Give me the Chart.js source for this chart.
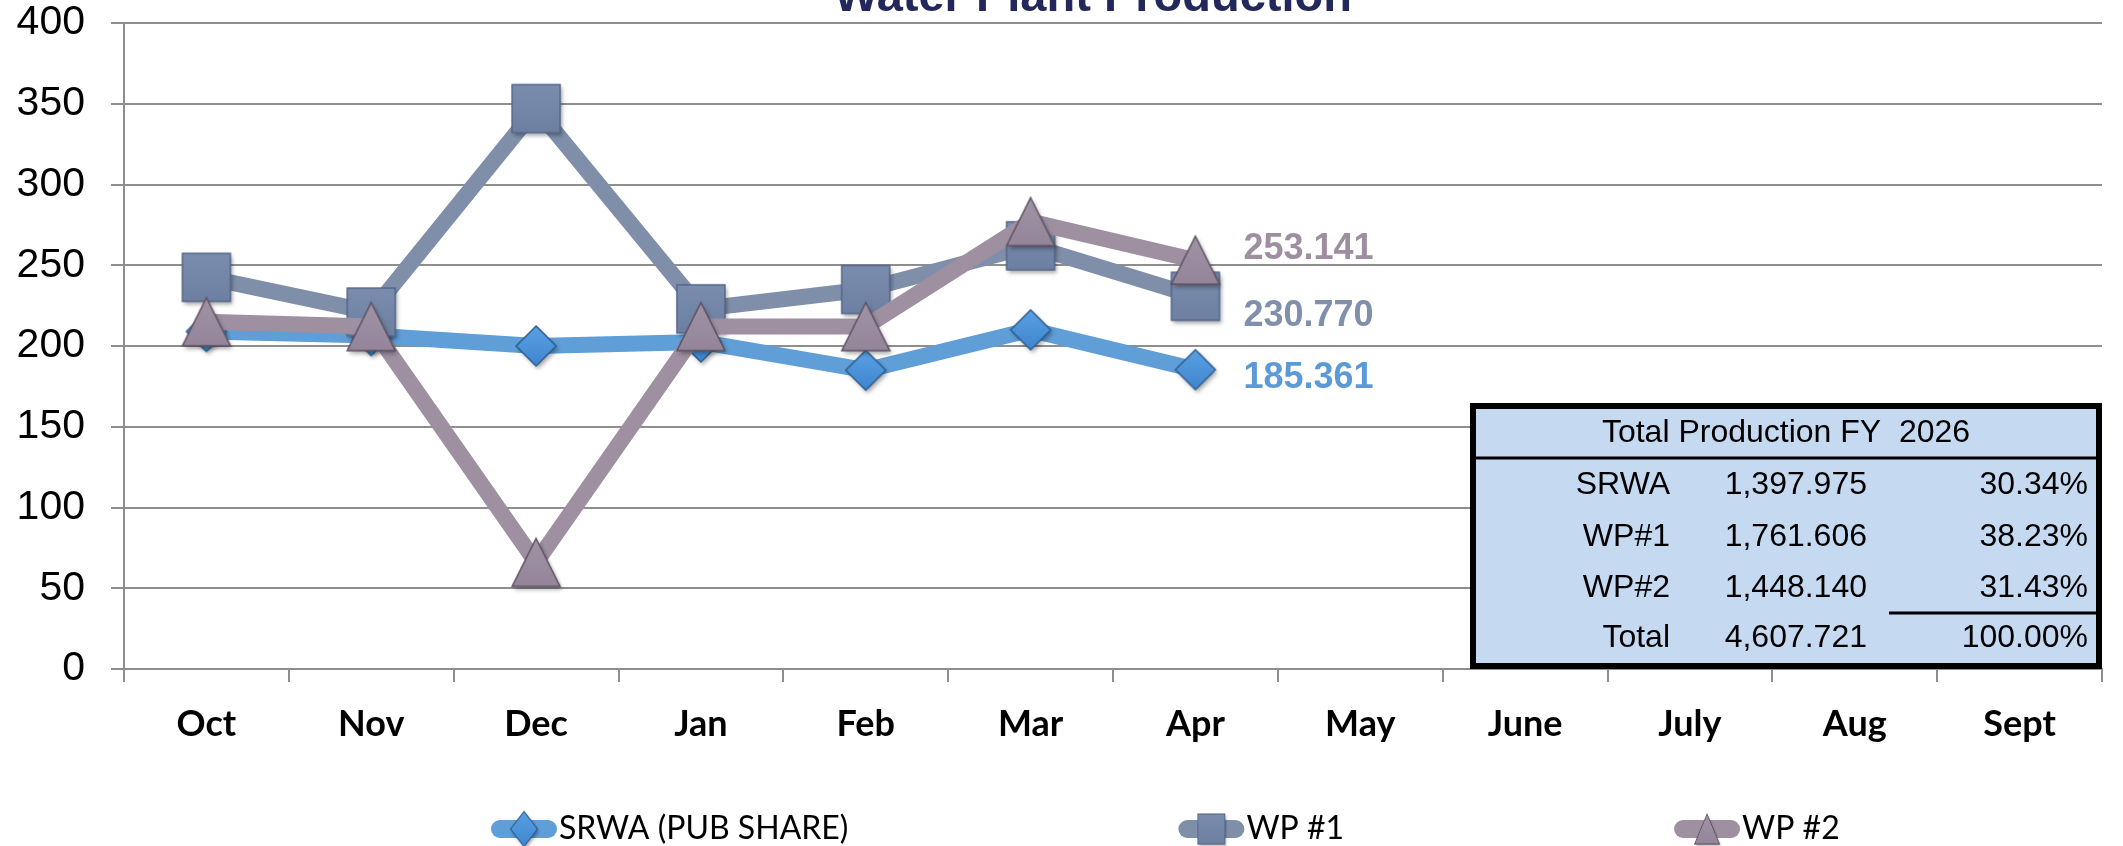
<!DOCTYPE html>
<html>
<head>
<meta charset="utf-8">
<title>Water Plant Production</title>
<script src="https://cdn.jsdelivr.net/npm/chart.js@4.4.1/dist/chart.umd.min.js"></script>
<style>
  html, body { margin: 0; padding: 0; background: #fff; }
  #wrap { width: 2123px; height: 846px; position: relative; }
</style>
</head>
<body>
<div id="wrap"><canvas id="grafico"></canvas></div>
<script>
// dados (May..Sept ainda sem valores)
const months = ['Oct', 'Nov', 'Dec', 'Jan', 'Feb', 'Mar', 'Apr', 'May', 'June', 'July', 'Aug', 'Sept'];
const srwa = [209, 206.5, 200, 202.5, 185, 210, 185.361, null, null, null, null, null];
const wp1 = [242.5, 221, 347, 223, 235, 262, 230.770, null, null, null, null, null];
const wp2 = [215, 212, 66, 212, 212, 277, 253.141, null, null, null, null, null];
const yTicks = [0, 50, 100, 150, 200, 250, 300, 350, 400];

const tableTitle = 'Total Production FY  2026';
const tableNames = ['SRWA', 'WP#1', 'WP#2', 'Total'];
const tableTotals = [1397.975, 1761.606, 1448.140, 4607.721];
const tablePercents = [30.34, 38.23, 31.43, 100.00];

const ARIAL = "'Liberation Sans', Arial, sans-serif";
const GRID = '#8E8E8E';

// marcadores desenhados num canvas pequeno (com sombra)
function marker(shape, w, h, fill, stroke) {
    const pad = 8;
    const c = document.createElement('canvas');
    c.width = w + pad * 2;
    c.height = h + pad * 2;
    const g = c.getContext('2d');
    g.shadowColor = 'rgba(0,0,0,0.35)';
    g.shadowBlur = 4;
    g.shadowOffsetX = 2;
    g.shadowOffsetY = 3;
    g.beginPath();
    if (shape === 'diamond') {
        g.moveTo(pad + w / 2, pad);
        g.lineTo(pad + w, pad + h / 2);
        g.lineTo(pad + w / 2, pad + h);
        g.lineTo(pad, pad + h / 2);
    } else if (shape === 'square') {
        g.rect(pad, pad, w, h);
    } else {
        g.moveTo(pad + w / 2, pad);
        g.lineTo(pad + w, pad + h);
        g.lineTo(pad, pad + h);
    }
    g.closePath();
    const grad = g.createLinearGradient(0, pad, 0, pad + h);
    grad.addColorStop(0, fill[0]);
    grad.addColorStop(1, fill[1]);
    g.fillStyle = grad;
    g.fill();
    g.shadowColor = 'transparent';
    g.lineWidth = 1.5;
    g.strokeStyle = stroke;
    g.stroke();
    return c;
}

const diamond = marker('diamond', 40, 40, ['#5AA0E4', '#3F86CF'], '#2E5E8E');
const square = marker('square', 48, 48, ['#7A8DAE', '#6D80A2'], '#55678A');
const triangle = marker('triangle', 48, 48, ['#A193A6', '#94859A'], '#5E5262');

const extras = {
    id: 'extras',
    afterDatasetsDraw(chart) {
        // rótulo do último valor de cada série
        const ctx = chart.ctx;
        ctx.save();
        ctx.font = 'bold 36px ' + ARIAL;
        ctx.textAlign = 'left';
        ctx.textBaseline = 'middle';
        chart.data.datasets.forEach((ds, i) => {
            const meta = chart.getDatasetMeta(i);
            let last = -1;
            ds.data.forEach((v, j) => { if (v !== null) last = j; });
            if (last < 0) return;
            const p = meta.data[last];
            ctx.fillStyle = ds.labelColor;
            ctx.fillText(ds.data[last].toFixed(3), p.x + 48, p.y + ds.labelDy);
        });
        ctx.restore();
    },
    afterDraw(chart) {
        const ctx = chart.ctx;
        const area = chart.chartArea;
        ctx.save();

        // título (cortado no topo, como no original)
        ctx.font = 'bold 47px ' + ARIAL;
        ctx.fillStyle = '#23285A';
        ctx.textAlign = 'center';
        ctx.textBaseline = 'alphabetic';
        ctx.fillText('Water Plant Production', area.left + 969, 11);

        // tabela de totais
        const L = area.right - 632, R = area.right, B = area.bottom, T = B - 266;
        ctx.fillStyle = '#C5D9F1';
        ctx.fillRect(L, T, R - L, B - T);
        ctx.strokeStyle = '#000';
        ctx.lineWidth = 6;
        ctx.strokeRect(L + 3, T + 3, R - L - 6, B - T - 6);
        ctx.lineWidth = 3;
        ctx.beginPath();
        ctx.moveTo(L + 6, T + 55);
        ctx.lineTo(R - 6, T + 55);
        ctx.moveTo(L + 419, T + 210);
        ctx.lineTo(R - 6, T + 210);
        ctx.stroke();

        ctx.fillStyle = '#000';
        ctx.font = '32px ' + ARIAL;
        ctx.textBaseline = 'middle';
        ctx.textAlign = 'center';
        ctx.fillText(tableTitle, (L + R) / 2, T + 30);
        const rowY = [82, 134, 185, 235];
        tableNames.forEach((name, i) => {
            const y = T + rowY[i];
            ctx.textAlign = 'right';
            ctx.fillText(name, L + 200, y);
            ctx.fillText(tableTotals[i].toLocaleString('en-US', {minimumFractionDigits: 3, maximumFractionDigits: 3}), L + 397, y);
            ctx.fillText(tablePercents[i].toFixed(2) + '%', L + 618, y);
        });

        // legenda embaixo
        const styles = [diamond, square, triangle];
        const sizes = [[27, 35], [27, 30], [25, 30]];
        const ly = 829;
        let x = area.left + 367;
        ctx.font = "32px Lato, 'Open Sans', sans-serif";
        ctx.textAlign = 'left';
        ctx.textBaseline = 'middle';
        chart.data.datasets.forEach((ds, i) => {
            ctx.strokeStyle = ds.borderColor;
            ctx.lineWidth = 18;
            ctx.lineCap = 'round';
            ctx.beginPath();
            ctx.moveTo(x + 9, ly);
            ctx.lineTo(x + 57, ly);
            ctx.stroke();
            const [w, h] = sizes[i];
            const img = styles[i];
            const sx = w / (img.width - 16), sy = h / (img.height - 16);
            ctx.drawImage(img, x + 33 - img.width * sx / 2, ly - img.height * sy / 2, img.width * sx, img.height * sy);
            ctx.fillStyle = '#000';
            ctx.fillText(ds.label, x + 68, ly);
            x += 68 + ctx.measureText(ds.label).width + 330;
        });
        ctx.restore();
    }
};

new Chart(document.getElementById('grafico').getContext('2d'), {
    type: 'line',
    data: {
        labels: months,
        datasets: [{
            label: 'SRWA (PUB SHARE)',
            data: srwa,
            borderColor: '#5F9ED6',
            pointStyle: diamond,
            order: 3,
            labelColor: '#5B9AD6',
            labelDy: 8
        }, {
            label: 'WP #1',
            data: wp1,
            borderColor: '#7F8FAA',
            pointStyle: square,
            order: 2,
            labelColor: '#8090AB',
            labelDy: 20
        }, {
            label: 'WP #2',
            data: wp2,
            borderColor: '#9E8FA1',
            pointStyle: triangle,
            order: 1,
            labelColor: '#9D8FA0',
            labelDy: -11
        }]
    },
    options: {
        responsive: true,
        maintainAspectRatio: false,
        animation: false,
        layout: { padding: 0 },
        elements: {
            line: { borderWidth: 16, tension: 0, borderJoinStyle: 'round', fill: false },
            point: { radius: 20, hoverRadius: 20 }
        },
        plugins: {
            legend: { display: false },
            title: { display: false },
            tooltip: { enabled: false }
        },
        scales: {
            x: {
                offset: true,
                grid: { offset: true, drawOnChartArea: false, drawTicks: true, tickLength: 13, color: GRID, lineWidth: 2 },
                border: { display: true, color: GRID, width: 2 },
                ticks: { color: '#000', padding: 21, font: { family: "Lato, 'Open Sans', sans-serif", weight: 'bold', size: 36 } },
                afterFit: s => { s.height = 177; }
            },
            y: {
                min: yTicks[0],
                max: yTicks[yTicks.length - 1],
                afterBuildTicks: s => { s.ticks = yTicks.map(v => ({ value: v })); },
                grid: { color: GRID, lineWidth: 2, tickLength: 13 },
                border: { display: true, color: GRID, width: 2 },
                ticks: { color: '#000', padding: 26, font: { family: ARIAL, size: 41, lineHeight: 1 } },
                afterFit: s => { s.width = 124; s.paddingTop = 23; s.paddingBottom = 0; }
            }
        }
    },
    plugins: [extras]
});
</script>
</body>
</html>
